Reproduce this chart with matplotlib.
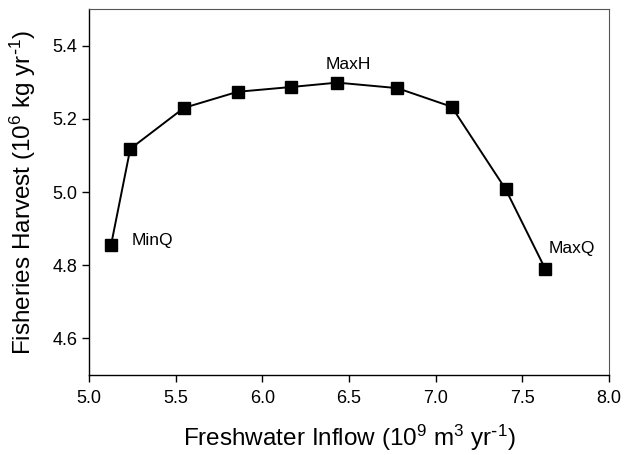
import matplotlib
matplotlib.use('Agg')
import matplotlib.pyplot as plt

# data
inflow = [5.127, 5.238, 5.548, 5.858, 6.166, 6.433, 6.779, 7.093, 7.404, 7.633]
harvest = [4.855, 5.118, 5.230, 5.274, 5.287, 5.299, 5.284, 5.233, 5.008, 4.790]
labels = ['MinQ', 'MaxH', 'MaxQ']
label_pos = [(5.247, 4.867), (6.494, 5.349), (7.654, 4.845)]
label_align = ['left', 'center', 'left']

xticks = [5.0, 5.5, 6.0, 6.5, 7.0, 7.5, 8.0]
yticks = [4.6, 4.8, 5.0, 5.2, 5.4]

plt.rcParams['font.family'] = ['Liberation Sans', 'DejaVu Sans']
plt.rcParams['mathtext.default'] = 'regular'

fig = plt.figure(figsize=(6.27, 4.55), dpi=100)
ax = fig.add_axes([0.142, 0.176, 0.829, 0.804])

ax.plot(inflow, harvest, 'k-', lw=1.4, marker='s', markersize=8.5,
        markerfacecolor='black', markeredgecolor='black')

for text, (tx, ty), ha in zip(labels, label_pos, label_align):
    ax.text(tx, ty, text, ha=ha, va='center', fontsize=12.5)

ax.set_xlim(5.0, 8.0)
ax.set_ylim(4.5, 5.5)
ax.set_xticks(xticks)
ax.set_yticks(yticks)
ax.set_xticklabels(['%.1f' % v for v in xticks])
ax.set_yticklabels(['%.1f' % v for v in yticks])
ax.tick_params(direction='out', length=5, width=1, labelsize=13, colors='black')
ax.tick_params(axis='x', pad=6)

for side in ['left', 'bottom']:
    ax.spines[side].set_color('black')
    ax.spines[side].set_linewidth(1)
for side in ['top', 'right']:
    ax.spines[side].set_color('#555555')
    ax.spines[side].set_linewidth(0.8)

ax.set_xlabel('Freshwater Inflow (10$^{9}$ m$^{3}$ yr$^{\\text{-}1}$)', fontsize=17.5, labelpad=11)
ax.set_ylabel('Fisheries Harvest (10$^{6}$ kg yr$^{\\text{-}1}$)', fontsize=17.5, labelpad=10)

fig.savefig('out.png', dpi=100)
